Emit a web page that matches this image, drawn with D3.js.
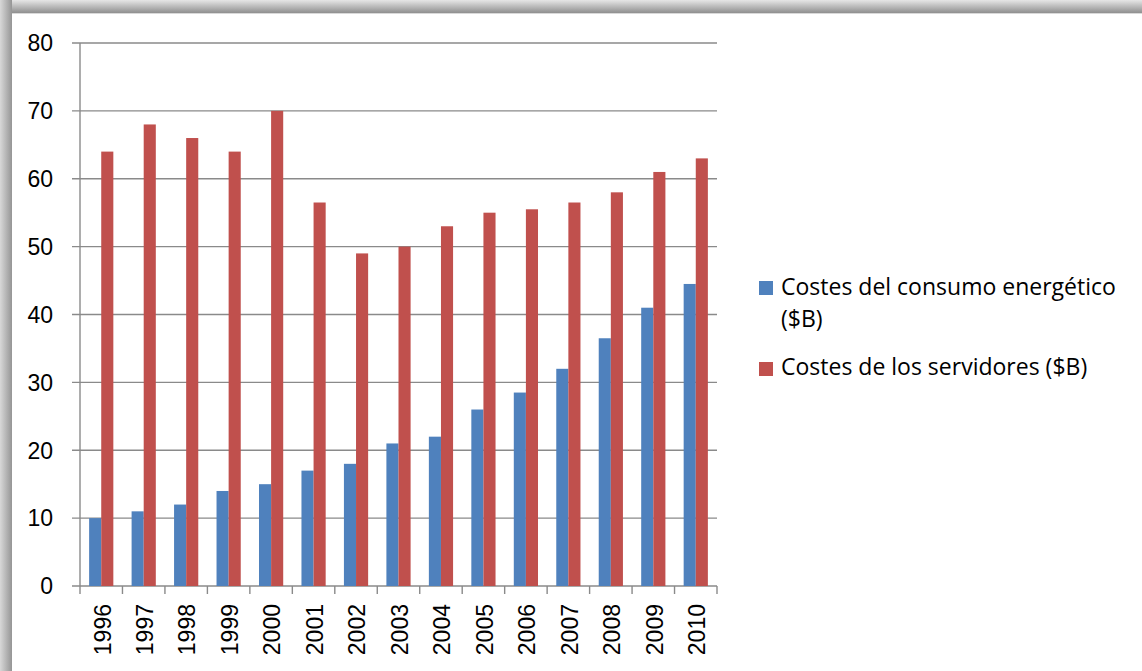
<!DOCTYPE html>
<html><head><meta charset="utf-8">
<script src="https://cdn.jsdelivr.net/npm/d3@7"></script>
<style>html,body{margin:0;padding:0;background:#fff;}svg{display:block;}</style>
</head><body>
<svg id="chart" width="1142" height="671"></svg>
<script>
const years = ["1996","1997","1998","1999","2000","2001","2002","2003","2004","2005","2006","2007","2008","2009","2010"];
const energyCosts = [10,11,12,14,15,17,18,21,22,26,28.5,32,36.5,41,44.5];
const serverCosts = [64,68,66,64,70,56.5,49,50,53,55,55.5,56.5,58,61,63];
const seriesNames = ["Costes del consumo energético ($B)", "Costes de los servidores ($B)"];
const seriesColors = ["#4F81BD", "#C0504D"];
const yTicks = [0,10,20,30,40,50,60,70,80];

const svg = d3.select("#chart");
const W = 1142, H = 671;
const FONT = "'Liberation Sans', Arial, sans-serif";
const LFONT = "'Open Sans', 'Liberation Sans', sans-serif";

// frame shadow (top and left)
const defs = svg.append("defs");
const gT = defs.append("linearGradient").attr("id","gT").attr("x1",0).attr("y1",0).attr("x2",0).attr("y2",1);
gT.append("stop").attr("offset","0%").attr("stop-color","#e6e6e6");
gT.append("stop").attr("offset","100%").attr("stop-color","#8f8f8f");
const gL = defs.append("linearGradient").attr("id","gL").attr("x1",0).attr("y1",0).attr("x2",1).attr("y2",0);
gL.append("stop").attr("offset","0%").attr("stop-color","#d8d8d8");
gL.append("stop").attr("offset","100%").attr("stop-color","#959595");
svg.append("rect").attr("x",0).attr("y",0).attr("width",W).attr("height",H).attr("fill","#fff");
svg.append("rect").attr("x",0).attr("y",0).attr("width",W).attr("height",13).attr("fill","url(#gT)");
svg.append("rect").attr("x",0).attr("y",0).attr("width",12).attr("height",H).attr("fill","url(#gL)");
svg.append("rect").attr("x",12).attr("y",13).attr("width",W-12).attr("height",1).attr("fill","#d9d9d9");

const plot = {left: 80, right: 717, top: 43, bottom: 586};
const x = d3.scaleBand().domain(years).range([plot.left, plot.right]).paddingInner(0).paddingOuter(0);
const y = d3.scaleLinear().domain([0,80]).range([plot.bottom, plot.top]);
const barW = x.bandwidth() * 0.285;
const groupOff = (x.bandwidth() - 2*barW)/2;

const GRID = "#8a8a8a";
// gridlines
svg.append("g").selectAll("line").data(yTicks).join("line")
  .attr("x1", plot.left - 8).attr("x2", plot.right)
  .attr("y1", d => y(d)).attr("y2", d => y(d))
  .attr("stroke", GRID).attr("stroke-width", 1.4);

// bars
const data = [energyCosts, serverCosts];
data.forEach((vals, si) => {
  svg.append("g").selectAll("rect").data(vals).join("rect")
    .attr("x", (d,i) => x(years[i]) + groupOff + si*barW)
    .attr("width", barW)
    .attr("y", d => y(d))
    .attr("height", d => y(0) - y(d))
    .attr("fill", seriesColors[si]);
});

// y axis line
svg.append("line").attr("x1", plot.left).attr("x2", plot.left)
  .attr("y1", plot.top).attr("y2", plot.bottom + 8)
  .attr("stroke", GRID).attr("stroke-width", 1.4);
// x tick marks
const bounds = years.map(d => x(d)).concat([plot.right]);
svg.append("g").selectAll("line").data(bounds.slice(1)).join("line")
  .attr("x1", d => d).attr("x2", d => d)
  .attr("y1", plot.bottom).attr("y2", plot.bottom + 8)
  .attr("stroke", GRID).attr("stroke-width", 1.4);

// y labels
svg.append("g").selectAll("text").data(yTicks).join("text")
  .attr("x", 53).attr("y", d => y(d)).attr("dy", "0.36em")
  .attr("text-anchor", "end")
  .attr("font-family", FONT).attr("font-size", 23).attr("fill", "#000")
  .text(d => d);

// x labels
svg.append("g").selectAll("text").data(years).join("text")
  .attr("transform", d => `translate(${x(d) + x.bandwidth()/2 + 1},604) rotate(-90)`)
  .attr("dy", "0.36em")
  .attr("text-anchor", "end")
  .attr("font-family", FONT).attr("font-size", 23).attr("fill", "#000")
  .text(d => d);

// legend
const leg = svg.append("g");
const legendRows = [
  {lines: ["Costes del consumo energético", "($B)"], sq: 281, base: 295},
  {lines: ["Costes de los servidores ($B)"], sq: 362, base: 375}
];
legendRows.forEach((r, i) => {
  leg.append("rect").attr("x", 759).attr("y", r.sq).attr("width", 14).attr("height", 14).attr("fill", seriesColors[i]);
  r.lines.forEach((t, j) => {
    leg.append("text").attr("x", 781).attr("y", r.base + j*32)
      .attr("font-family", LFONT).attr("font-size", 23).attr("fill", "#000").text(t);
  });
});
</script>
</body></html>
